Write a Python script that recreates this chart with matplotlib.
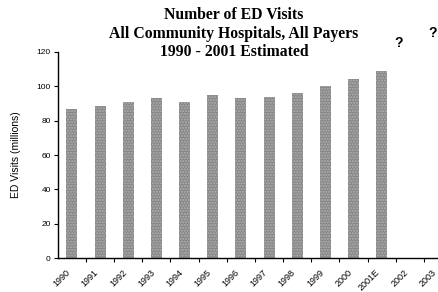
import matplotlib
matplotlib.use("Agg")
import matplotlib.pyplot as plt
import numpy as np

categories = ["1990", "1991", "1992", "1993", "1994", "1995", "1996", "1997",
              "1998", "1999", "2000", "2001E", "2002", "2003"]
visits = [86.8, 88.5, 91.0, 93.0, 90.9, 95.0, 93.4, 93.6, 95.9, 100.2, 104.0, 108.9]
yticks = [0, 20, 40, 60, 80, 100, 120]

fig = plt.figure(figsize=(4.38, 2.92), dpi=100)
ax = fig.add_axes([0.132, 0.116, 0.868, 0.706])

x = np.arange(len(categories))
ax.bar(x[:len(visits)], visits, width=0.39, color="#878787", edgecolor="#b0b0b0",
       hatch="......", linewidth=0)

ax.set_xlim(-0.5, 13.0)
ax.set_ylim(0, 120)
ax.set_yticks(yticks)
ax.set_yticklabels([str(v) for v in yticks], fontsize=6, family="Liberation Sans")
ax.set_xticks(x - 0.22)
ax.set_xticklabels(categories, rotation=45, ha="right", rotation_mode="anchor",
                   fontsize=6.5, family="Liberation Sans")
ax.tick_params(axis="x", which="major", length=0, pad=7)
ax.set_xticks(x[:-1] + 0.5, minor=True)
ax.tick_params(axis="x", which="minor", length=3, direction="out", width=0.8)
ax.tick_params(axis="y", length=3, width=0.8, pad=2)
for s in ["top", "right"]:
    ax.spines[s].set_visible(False)
ax.spines["left"].set_linewidth(1.0)
ax.spines["bottom"].set_linewidth(1.0)

ax.set_ylabel("ED Visits (millions)", fontsize=7.5, family="Liberation Sans", labelpad=11)

fig.text(0.534, 0.975, "Number of ED Visits\nAll Community Hospitals, All Payers\n1990 - 2001 Estimated",
         ha="center", va="top", fontsize=11.3, fontweight="bold", family="Liberation Serif",
         linespacing=1.2)

ax.text(11.6, 125, "?", ha="center", va="center", fontsize=10, fontweight="bold",
        family="Liberation Sans", clip_on=False)
ax.text(12.8, 131, "?", ha="center", va="center", fontsize=10, fontweight="bold",
        family="Liberation Sans", clip_on=False)

fig.savefig("out.png", dpi=100)
